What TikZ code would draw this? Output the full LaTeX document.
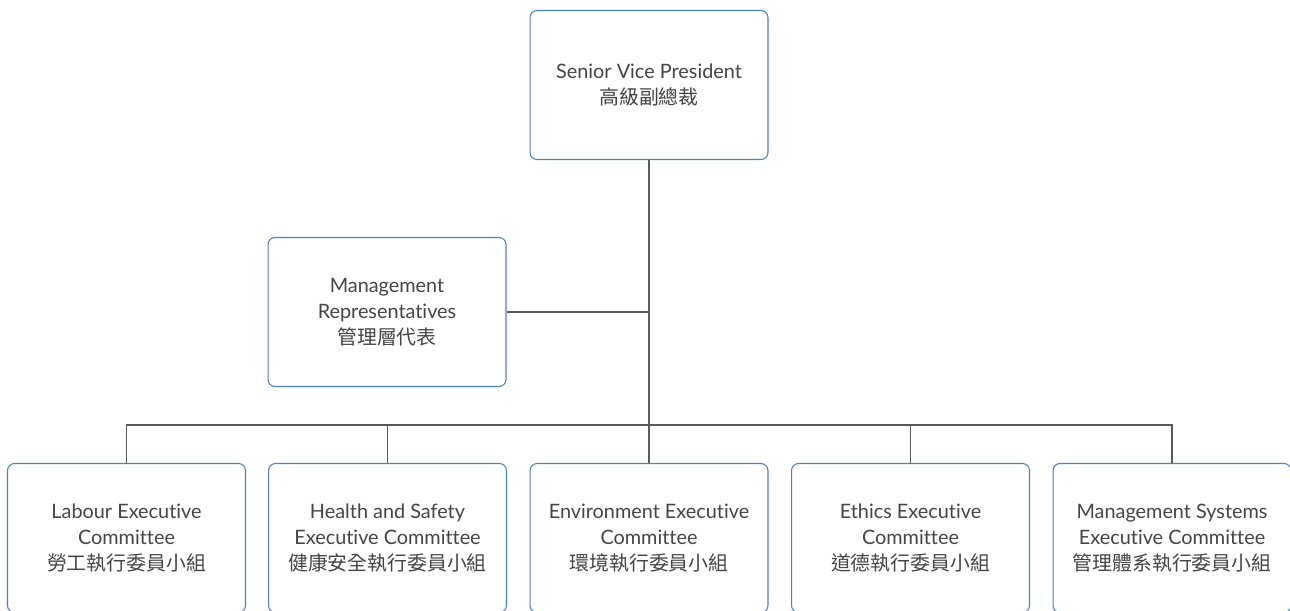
\documentclass[tikz,border=0pt]{standalone}
\usepackage{fontspec}
\setmainfont{Lato}[RawFeature={-liga;-dlig;-calt;-clig}]
\newfontfamily\cjk{Noto Sans CJK TC}
\usepackage{tikz}
\usetikzlibrary{positioning,calc}

\definecolor{boxblue}{HTML}{4A80C8}
\definecolor{linkgray}{HTML}{5A5A5A}
\definecolor{txtgray}{HTML}{444444}

\tikzset{
  orgbox/.style={draw=boxblue,line width=0.6pt,rounded corners=0.14cm,
    minimum width=4.76cm,minimum height=2.98cm,align=center,text=txtgray,
    font=\fontsize{11.3}{14.8}\selectfont},
  link/.style={draw=linkgray,line width=0.6pt}
}

\begin{document}
\begin{tikzpicture}[x=0.02cm,y=-0.02cm]
\useasboundingbox (0,0) rectangle (1290,611);

% top and side boxes
\node[orgbox] (svp) at (649,85) {Senior Vice President\\{\cjk 高級副總裁}};
\node[orgbox] (mgmt) at (387,312) {Management\\Representatives\\{\cjk 管理層代表}};
\coordinate (bus) at (649,425);

% committees
\node[orgbox] (c1) at (126.5,538) {Labour Executive\\Committee\\{\cjk 勞工執行委員小組}};
\node[orgbox] (c2) at (387.5,538) {Health and Safety\\Executive Committee\\{\cjk 健康安全執行委員小組}};
\node[orgbox] (c3) at (649,538) {Environment Executive\\Committee\\{\cjk 環境執行委員小組}};
\node[orgbox] (c4) at (910.5,538) {Ethics Executive\\Committee\\{\cjk 道德執行委員小組}};
\node[orgbox] (c5) at (1172,538) {Management Systems\\Executive Committee\\{\cjk 管理體系執行委員小組}};

% connectors
\draw[link] (svp.south) -- (bus);
\draw[link] (mgmt.east) -- (mgmt.east -| bus);
\foreach \i in {1,...,5} {
    \draw[link] (c\i.north) |- (bus);
}
\end{tikzpicture}
\end{document}
